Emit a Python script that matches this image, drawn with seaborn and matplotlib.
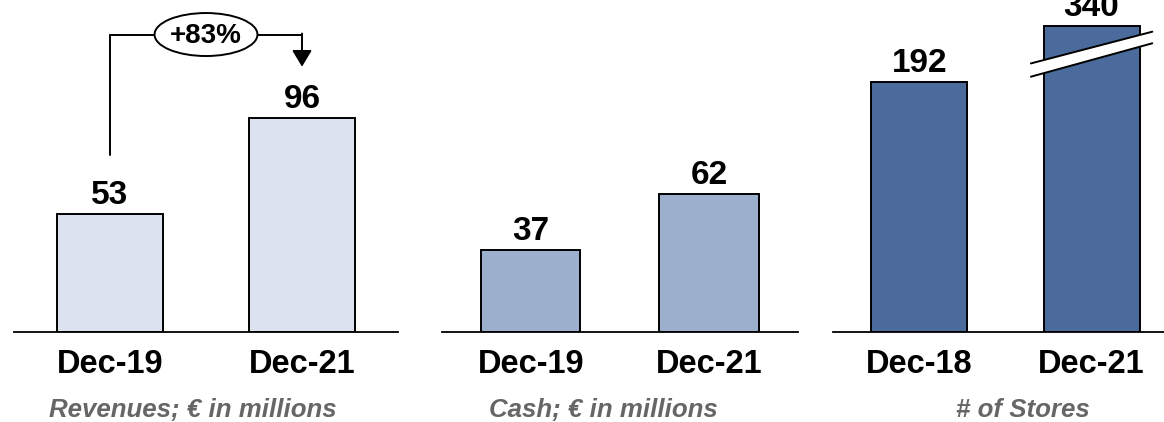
import numpy as np
import matplotlib
matplotlib.use("Agg")
import matplotlib.pyplot as plt
import seaborn as sns
from matplotlib.patches import Ellipse, Polygon

# ---- data -------------------------------------------------------------
rev_periods = ["Dec-19", "Dec-21"]
rev_values = [53, 96]

cash_periods = ["Dec-19", "Dec-21"]
cash_values = [37, 62]

store_periods = ["Dec-18", "Dec-21"]
store_values = [192, 340]

growth_label = "+83%"
panel_titles = ["Revenues; € in millions", "Cash; € in millions", "# of Stores"]

# ---- style ------------------------------------------------------------
sns.set_theme(style="white")
plt.rcParams["font.family"] = ["Liberation Sans", "DejaVu Sans"]

colors = ["#dce3ee", "#9cb0ce", "#4a6b9b"]
EDGE_LW = 1.4
BAR_W = 0.557

fig = plt.figure(figsize=(11.64, 4.22), dpi=100)
base = 90 / 422
height = 332 / 422
ax1 = fig.add_axes([14 / 1164, base, 384 / 1164, height])
ax2 = fig.add_axes([441.7 / 1164, base, 356.3 / 1164, height])
ax3 = fig.add_axes([833 / 1164, base, 331 / 1164, height])


def draw_panel(ax, periods, values, color, title, title_x, xlim=(-0.5, 1.5)):
    sns.barplot(x=periods, y=values, ax=ax, color=color, saturation=1,
                edgecolor="black", linewidth=EDGE_LW, width=BAR_W, zorder=2)
    ax.set_xlim(*xlim)
    ax.set_facecolor("none")
    sns.despine(ax=ax, left=True)
    ax.spines["bottom"].set_color("black")
    ax.spines["bottom"].set_linewidth(1.3)
    ax.spines["bottom"].set_zorder(3)
    ax.set_yticks([])
    ax.set_xlabel("")
    ax.set_ylabel("")
    ax.tick_params(axis="x", length=0, pad=12.5, labelsize=23.5, colors="black")
    for lbl in ax.get_xticklabels():
        lbl.set_fontweight("bold")
    for i, v in enumerate(values):
        ax.annotate(f"{v}", xy=(i, v), xytext=(0, 7), textcoords="offset points",
                    ha="center", va="baseline", fontsize=24, fontweight="bold",
                    color="black", annotation_clip=False)
    ax.text(title_x, -0.255, title, transform=ax.get_xaxis_transform(),
            ha="center", va="baseline", fontsize=18.6, fontweight="bold",
            fontstyle="italic", color="#666666")


# Revenues
draw_panel(ax1, rev_periods, rev_values, colors[0], panel_titles[0], 0.432)
ax1.set_ylim(0, 149)

# growth connector: up from the first bar, across through the badge, down to the second
tr = ax1.get_xaxis_transform()
ax1.plot([0, 0, 0.232], [0.533, 0.896, 0.896], color="black", lw=1.4,
         transform=tr, solid_joinstyle="miter", clip_on=False)
ax1.plot([0.768, 1.0], [0.896, 0.896], color="black", lw=1.4,
         transform=tr, clip_on=False)
ax1.annotate("", xy=(1, 0.799), xycoords=tr, xytext=(1, 0.899), textcoords=tr,
             arrowprops=dict(arrowstyle="-|>,head_length=0.5,head_width=0.3",
                             mutation_scale=20, color="black", lw=1.4,
                             shrinkA=0, shrinkB=0))
ax1.add_patch(Ellipse((0.5, 0.896), 0.536, 0.1295, transform=tr,
                      facecolor="white", edgecolor="black", lw=1.4,
                      clip_on=False, zorder=4))
ax1.text(0.5, 0.893, growth_label, transform=tr, ha="center", va="center",
         fontsize=20, fontweight="bold", color="black", zorder=5)

# Cash
draw_panel(ax2, cash_periods, cash_values, colors[1], panel_titles[1], 0.406)
ax2.set_ylim(0, 149)

# Stores, on a broken value axis
draw_panel(ax3, store_periods, store_values, colors[2], panel_titles[2], 0.6,
           xlim=(-0.5, 1.42))
BREAK_AT, SQUEEZE = 200.0, 0.25


def fwd(y):
    y = np.asarray(y, dtype=float)
    return np.where(y <= BREAK_AT, y, BREAK_AT + (y - BREAK_AT) * SQUEEZE)


def inv(y):
    y = np.asarray(y, dtype=float)
    return np.where(y <= BREAK_AT, y, BREAK_AT + (y - BREAK_AT) / SQUEEZE)


ax3.set_yscale("function", functions=(fwd, inv))
ax3.set_ylim(0, float(inv(255)))
ax3.set_yticks([])
ax3.yaxis.set_minor_locator(matplotlib.ticker.NullLocator())

tr3 = ax3.get_xaxis_transform()
upper = [(0.648, 0.809), (1.352, 0.9045)]
lower = [(0.648, 0.769), (1.352, 0.8696)]
ax3.add_patch(Polygon(upper + lower[::-1], closed=True, transform=tr3,
                      facecolor="white", edgecolor="none", zorder=4, clip_on=False))
for seg in (upper, lower):
    xs, ys = zip(*seg)
    ax3.plot(xs, ys, color="black", lw=1.4, transform=tr3, zorder=5, clip_on=False)

fig.savefig("out.png", dpi=100)
